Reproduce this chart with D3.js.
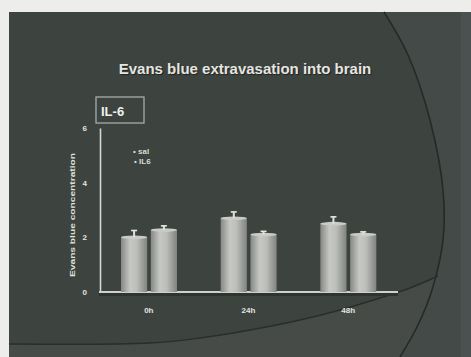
<!DOCTYPE html>
<html>
<head>
<meta charset="utf-8">
<script src="https://cdn.jsdelivr.net/npm/d3@7"></script>
<style>
  html, body { margin: 0; padding: 0; background: #eeeeec; }
  svg { display: block; }
  text { font-family: "Liberation Sans", Arial, sans-serif; font-weight: bold; }
</style>
</head>
<body>
<script>
// Evans blue extravasation data (mean ± SE), per time point
const categories = ["0h", "24h", "48h"];
const seriesNames = ["sal", "IL6"];
const salValues = [2.0, 2.7, 2.5];
const il6Values = [2.27, 2.1, 2.1];
const salErrors = [0.25, 0.23, 0.25];
const il6Errors = [0.15, 0.12, 0.1];
const yTickValues = [0, 2, 4, 6];
const legendLabels = ["sal", "IL6"];

const W = 471, H = 357;
const svg = d3.select("body").append("svg").attr("width", W).attr("height", H);
const defs = svg.append("defs");

// slide background
svg.append("rect").attr("x", 0).attr("y", 0).attr("width", W).attr("height", H).attr("fill", "#ededeb");
svg.append("rect").attr("x", 9).attr("y", 12).attr("width", W - 9).attr("height", H - 12).attr("fill", "#3d433f");

// decorative arcs of the slide template
const bigArc = [[384, 12], [408, 55], [430, 120], [443, 190], [443, 240], [432, 290], [418, 325], [400, 357]];
const lowArc = [[9, 344], [150, 343], [200, 338], [250, 330], [300, 320], [340, 310], [380, 298], [410, 288], [438, 276]];
const curve = d3.line().curve(d3.curveCatmullRom.alpha(0.5));

// region right of the big arc
svg.append("path")
  .attr("d", curve(bigArc) + `L${W},${H}L${W},12Z`)
  .attr("fill", "#434a47");
svg.append("rect").attr("x", 461).attr("y", 12).attr("width", 10).attr("height", H - 12).attr("fill", "#4a5150");
// region under the lower arc
svg.append("path")
  .attr("d", curve(lowArc) + "L434,293L418,325L400,357L9,357Z")
  .attr("fill", "#464b47");
svg.append("path").attr("d", curve(bigArc)).attr("fill", "none").attr("stroke", "#262a27").attr("stroke-width", 1.6);
svg.append("path").attr("d", curve(lowArc)).attr("fill", "none").attr("stroke", "#2a2e2b").attr("stroke-width", 1.4);

// title
svg.append("text").attr("x", 245).attr("y", 74).attr("text-anchor", "middle")
  .attr("font-size", 15).attr("fill", "#e4e6e2")
  .style("text-shadow", "1px 1px 1px #222")
  .text("Evans blue extravasation into brain");

// IL-6 tag box
svg.append("rect").attr("x", 96).attr("y", 97).attr("width", 48).attr("height", 26)
  .attr("fill", "none").attr("stroke", "#a9ada8").attr("stroke-width", 1.3);
svg.append("text").attr("x", 101).attr("y", 116).attr("font-size", 13).attr("fill", "#eef0ec").text("IL-6");

// scales
const x0 = d3.scaleBand().domain(categories).range([99, 398]).paddingInner(0).paddingOuter(0);
const x1 = d3.scaleBand().domain(seriesNames).range([22, 78]).paddingInner(0.12).paddingOuter(0);
const y = d3.scaleLinear().domain([0, 6]).range([292, 128]);

// cylinder shading
const grad = defs.append("linearGradient").attr("id", "cyl").attr("x1", "0%").attr("x2", "100%");
grad.append("stop").attr("offset", "0%").attr("stop-color", "#858884");
grad.append("stop").attr("offset", "35%").attr("stop-color", "#c6c8c4");
grad.append("stop").attr("offset", "60%").attr("stop-color", "#bcbeba");
grad.append("stop").attr("offset", "100%").attr("stop-color", "#80837f");

// floor of the plot
svg.append("rect").attr("x", 99).attr("y", 292).attr("width", 299).attr("height", 4).attr("fill", "#2f3431");
svg.append("line").attr("x1", 99).attr("x2", 398).attr("y1", 292).attr("y2", 292)
  .attr("stroke", "#cfd1cd").attr("stroke-width", 2);

// bars
const rows = categories.map((c, i) => [
  { cat: c, s: "sal", v: salValues[i], e: salErrors[i] },
  { cat: c, s: "IL6", v: il6Values[i], e: il6Errors[i] }
]).flat();

const g = svg.append("g");
const bw = x1.bandwidth();
rows.forEach(d => {
  const bx = x0(d.cat) + x1(d.s);
  g.append("rect").attr("x", bx).attr("y", y(d.v)).attr("width", bw).attr("height", y(0) - y(d.v))
    .attr("fill", "url(#cyl)");
  g.append("ellipse").attr("cx", bx + bw / 2).attr("cy", y(d.v)).attr("rx", bw / 2).attr("ry", 1.8)
    .attr("fill", "#c9cbc7");
  // error bar
  const cx = bx + bw / 2;
  g.append("line").attr("x1", cx).attr("x2", cx).attr("y1", y(d.v)).attr("y2", y(d.v + d.e))
    .attr("stroke", "#dfe1dd").attr("stroke-width", 2);
  g.append("line").attr("x1", cx - 3).attr("x2", cx + 3).attr("y1", y(d.v + d.e)).attr("y2", y(d.v + d.e))
    .attr("stroke", "#e6e8e4").attr("stroke-width", 1.6);
});

// y axis
const yAxis = svg.append("g").attr("transform", "translate(100,0)")
  .call(d3.axisLeft(y).tickValues(yTickValues).tickSize(0).tickPadding(13).tickFormat(d3.format("d")));
yAxis.select(".domain").attr("stroke", "#d6d8d4").attr("stroke-width", 1.6);
yAxis.selectAll("text").attr("fill", "#e2e4e0").attr("font-size", 8)
  .attr("font-family", "Liberation Sans, Arial, sans-serif").attr("font-weight", "bold");

// x axis labels
const xAxis = svg.append("g").attr("transform", "translate(0,292)")
  .call(d3.axisBottom(x0).tickSize(0).tickPadding(15));
xAxis.select(".domain").remove();
xAxis.selectAll("text").attr("fill", "#e2e4e0").attr("font-size", 8)
  .attr("font-family", "Liberation Sans, Arial, sans-serif").attr("font-weight", "bold");

// y axis title
svg.append("text").attr("transform", "translate(75,215) rotate(-90)").attr("text-anchor", "middle")
  .attr("font-size", 8).attr("fill", "#dfe1dd").attr("textLength", 124).attr("lengthAdjust", "spacingAndGlyphs")
  .text("Evans blue concentration");

// legend
legendLabels.forEach((t, i) => {
  svg.append("text").attr("x", 133 + i).attr("y", 154 + i * 10).attr("font-size", 8)
    .attr("fill", "#d8dad6").text("\u2022 " + t);
});
</script>
</body>
</html>
